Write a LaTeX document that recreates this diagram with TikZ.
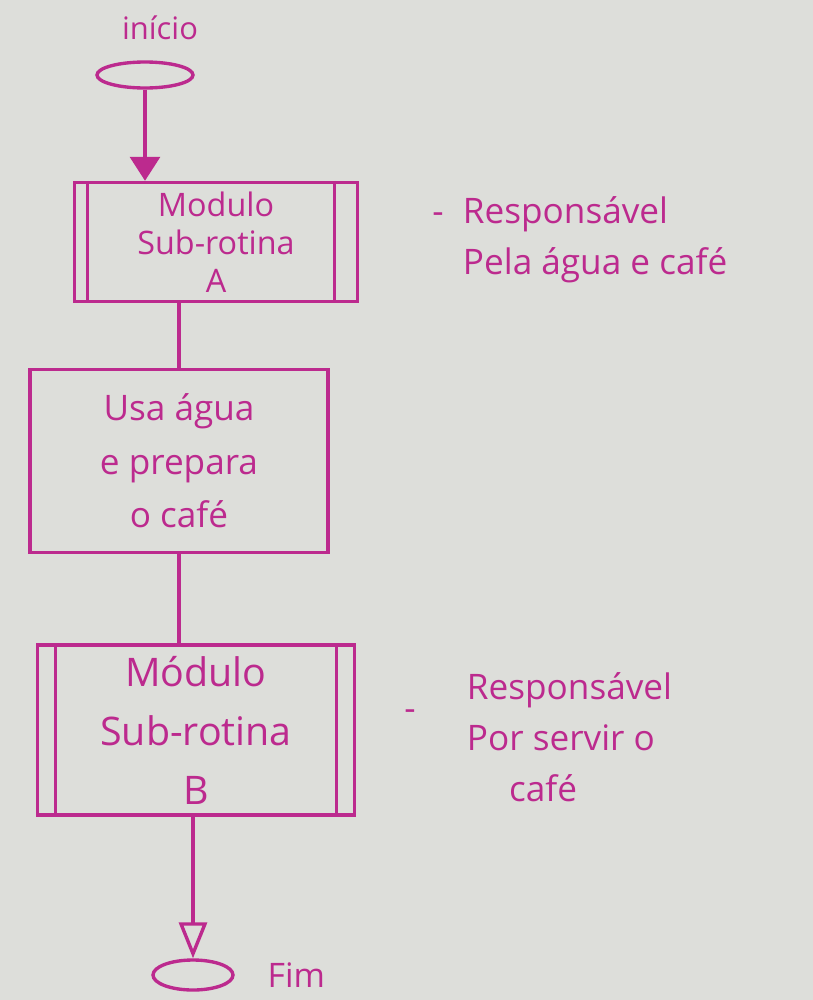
\documentclass[tikz,border=0pt]{standalone}
\usepackage{fontspec}
\setmainfont{Open Sans}
\usetikzlibrary{arrows.meta,shapes.geometric,positioning}
\definecolor{caneta}{RGB}{188,42,142}
\definecolor{papel}{RGB}{221,222,218}

\begin{document}
\begin{tikzpicture}[
    x=0.025cm, y=-0.025cm,
    bloco/.style={rectangle, draw=caneta, line width=2.4pt, text=caneta,
                  align=center, font=\fontsize{25}{38}\selectfont},
    terminal/.style={ellipse, draw=caneta, line width=2.4pt, inner sep=0pt},
    texto/.style={text=caneta, align=left, font=\fontsize{25}{36}\selectfont},
    seta/.style={draw=caneta, line width=2.4pt, -{Triangle[width=0.75cm,length=0.6cm]}},
    setaaberta/.style={draw=caneta, line width=2.4pt, -{Triangle[open,width=0.7cm,length=0.9cm]}},
    linha/.style={draw=caneta, line width=2.4pt}
  ]
    % Papel
    \fill[papel] (0,0) rectangle (813,1000);
    \useasboundingbox (0,0) rectangle (813,1000);

    % Inicio
    \node[texto, font=\fontsize{22}{26}\selectfont] (tinicio) at (160,28) {início};
    \node[terminal, minimum width=2.4cm, minimum height=0.65cm] (inicio) at (145,75) {};

    % Blocos
    \node[bloco, minimum width=7.075cm, minimum height=2.975cm, inner sep=1pt,
          font=\fontsize{23}{27}\selectfont] (modA) at (216,242) {Modulo\\Sub-rotina\\A};
    \node[bloco, minimum width=7.45cm, minimum height=4.575cm] (prep) at (179,461) {Usa água\\e prepara\\o café};
    \node[bloco, minimum width=7.925cm, minimum height=4.25cm,
          font=\fontsize{28}{42}\selectfont] (modB) at (196,730) {Módulo\\Sub-rotina\\B};

    % Linhas internas dos modulos
    \draw[linha] ([xshift=0.375cm]modA.north west) -- ([xshift=0.375cm]modA.south west);
    \draw[linha] ([xshift=-0.625cm]modA.north east) -- ([xshift=-0.625cm]modA.south east);
    \draw[linha] ([xshift=0.5cm]modB.north west) -- ([xshift=0.5cm]modB.south west);
    \draw[linha] ([xshift=-0.5cm]modB.north east) -- ([xshift=-0.5cm]modB.south east);

    % Fim
    \node[terminal, minimum width=2cm, minimum height=0.75cm] (fim) at (193,975) {};
    \node[texto, right=0.7cm of fim, font=\fontsize{24}{28}\selectfont] (tfim) {Fim};

    % Comentarios
    \node[texto] (tracoA) at (438,218) {-};
    \node[texto, anchor=north west] (notaA) at (458,192) {Responsável\\Pela água e café};
    \node[texto] (tracoB) at (410,715) {-};
    \node[texto, anchor=north west] (notaB) at (462,668) {Responsável\\Por servir o\\\hspace*{1.2em}café};

    % Conexoes
    \draw[seta] (inicio.south) -- (inicio.south |- modA.north);
    \draw[linha] (prep.north |- modA.south) -- (prep.north);
    \draw[linha] (prep.south) -- (prep.south |- modB.north);
    \draw[setaaberta] (fim.north |- modB.south) -- (fim.north);
  \end{tikzpicture}
\end{document}
